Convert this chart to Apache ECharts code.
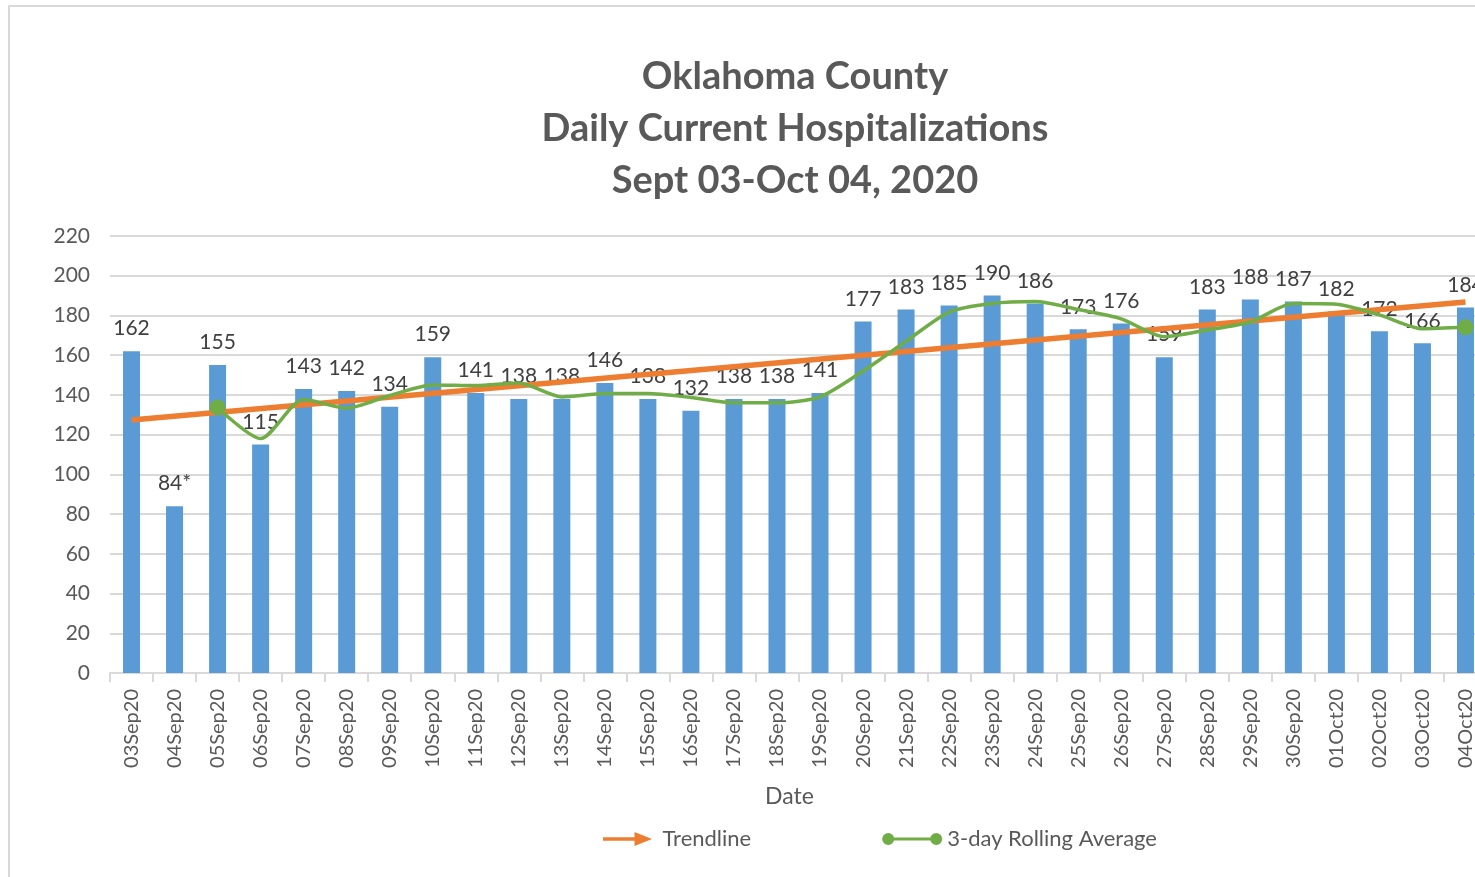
<!DOCTYPE html>
<html>
<head>
<meta charset="utf-8">
<script src="https://cdn.jsdelivr.net/npm/echarts@6/dist/echarts.min.js"></script>
<style>
  html, body { margin: 0; padding: 0; background: #fff; overflow: hidden; }
  .frame { position: absolute; left: 8px; top: 5px; width: 2000px; height: 2000px; border: 2px solid #d9d9d9; }
  #hospitalChart { position: absolute; left: 0; top: 0; width: 1475px; height: 877px; }
</style>
</head>
<body>
<div class="frame"></div>
<div id="hospitalChart"></div>
<script>
  const dates = ['03Sep20', '04Sep20', '05Sep20', '06Sep20', '07Sep20', '08Sep20', '09Sep20', '10Sep20',
    '11Sep20', '12Sep20', '13Sep20', '14Sep20', '15Sep20', '16Sep20', '17Sep20', '18Sep20', '19Sep20',
    '20Sep20', '21Sep20', '22Sep20', '23Sep20', '24Sep20', '25Sep20', '26Sep20', '27Sep20', '28Sep20',
    '29Sep20', '30Sep20', '01Oct20', '02Oct20', '03Oct20', '04Oct20']
  const hospitalized = [162, 84, 155, 115, 143, 142, 134, 159, 141, 138, 138, 146, 138, 132, 138, 138, 141,
    177, 183, 185, 190, 186, 173, 176, 159, 183, 188, 187, 182, 172, 166, 184]
  // 3-day rolling average
  const rollingAvg = ['-', '-', 133.7, 118, 137.7, 133.3, 139.7, 145, 144.7, 146, 139, 140.7, 140.7, 138.7,
    136, 136, 139, 152, 167, 181.7, 186, 187, 183, 178.3, 169.3, 172.7, 176.7, 186, 185.7, 180.3, 173.3, 174]
  // trendline start / end values
  const trendEnds = [127.4, 186.8]
  const labelNotes = { '04Sep20': '*' }
  const yTicks = [0, 220, 20]

  const grey = '#595959'
  const font = 'Lato, "Open Sans", sans-serif'

  let chart = echarts.init(document.getElementById('hospitalChart'))
  let option = {
    animation: false,
    textStyle: { fontFamily: font },
    title: {
      text: 'Oklahoma County\nDaily Current Hospitalizations\nSept 03-Oct 04, 2020',
      left: 790,
      textAlign: 'center',
      top: 46,
      textStyle: { fontSize: 38, fontWeight: 'bold', color: grey, lineHeight: 52, fontFamily: font }
    },
    legend: {
      left: 598,
      top: 823,
      itemGap: 131,
      itemWidth: 60,
      itemHeight: 14,
      textStyle: { fontSize: 22, color: grey, fontFamily: font },
      data: [
        { name: 'Trendline', icon: 'path://M0,5 L36,5 L36,-1 L56,7 L36,15 L36,9 L0,9 Z' },
        { name: '3-day Rolling Average',
          icon: 'path://M0,7 A6,6 0 1,1 12,7 A6,6 0 1,1 0,7 Z M48,7 A6,6 0 1,1 60,7 A6,6 0 1,1 48,7 Z M6,5.5 L54,5.5 L54,8.5 L6,8.5 Z' }
      ]
    },
    grid: { left: 110, width: 1377, top: 236, bottom: 204, outerBoundsMode: 'none' },
    xAxis: {
      type: 'category',
      data: dates,
      name: 'Date',
      nameLocation: 'middle',
      nameGap: 112,
      nameTextStyle: { fontSize: 23, color: grey, fontFamily: font, padding: [0, 18, 0, 0] },
      axisLine: { lineStyle: { color: '#d9d9d9', width: 2 } },
      axisTick: { show: true, length: 9, lineStyle: { color: '#d9d9d9', width: 2 } },
      axisLabel: { rotate: 90, fontSize: 20, color: grey, margin: 16, fontFamily: font }
    },
    yAxis: {
      type: 'value',
      min: yTicks[0],
      max: yTicks[1],
      interval: yTicks[2],
      axisLine: { show: false },
      axisTick: { show: false },
      axisLabel: { fontSize: 21, color: grey, margin: 20, fontFamily: font },
      splitLine: { lineStyle: { color: '#d9d9d9', width: 2 } }
    },
    series: [
      {
        name: 'Hospitalizations',
        type: 'bar',
        data: hospitalized,
        barWidth: 17,
        itemStyle: { color: '#5b9bd5' },
        z: 2,
        label: {
          show: true,
          position: 'top',
          distance: 12,
          fontSize: 21,
          color: '#404040',
          fontFamily: font,
          formatter: p => p.value + (labelNotes[p.name] || '')
        }
      },
      {
        name: '3-day Rolling Average',
        type: 'line',
        data: rollingAvg,
        smooth: 0.25,
        symbol: 'circle',
        symbolSize: (v, p) => (p.dataIndex === 2 || p.dataIndex === dates.length - 1) ? 16 : 0,
        itemStyle: { color: '#70ad47' },
        lineStyle: { color: '#70ad47', width: 3.5 },
        z: 5
      },
      {
        name: 'Trendline',
        type: 'line',
        data: [],
        itemStyle: { color: '#ed7d31' },
        z: 6,
        markLine: {
          silent: true,
          symbol: ['none', 'arrow'],
          symbolSize: [0, 28],
          label: { show: false },
          lineStyle: { color: '#ed7d31', width: 5.5, type: 'solid' },
          data: [[
            { coord: [dates[0], trendEnds[0]] },
            { coord: [dates[dates.length - 1], trendEnds[1]] }
          ]]
        }
      }
    ]
  }
  option && chart.setOption(option)
  window.addEventListener('resize', function() {
    chart.resize()
  })
</script>
</body>
</html>
